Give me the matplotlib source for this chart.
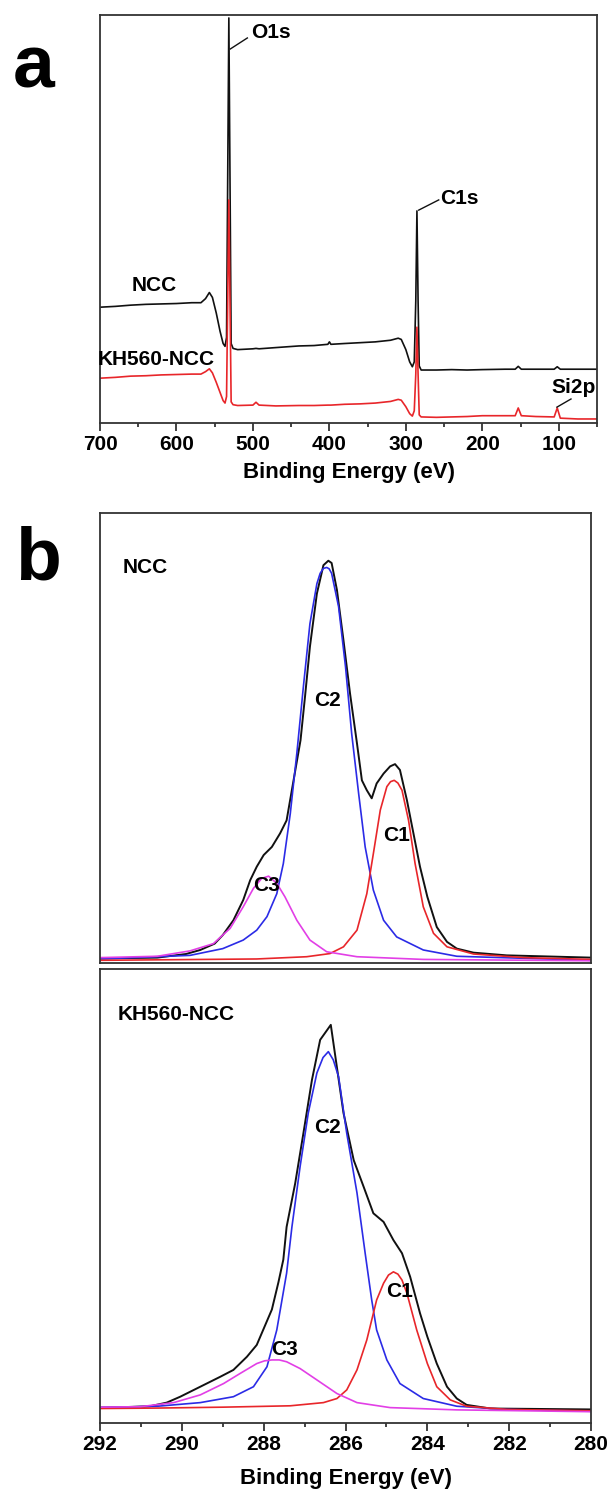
import matplotlib
matplotlib.use("Agg")
import matplotlib.pyplot as plt
from matplotlib.ticker import MultipleLocator

plt.rcParams["font.family"] = ["Liberation Sans", "DejaVu Sans"]
plt.rcParams["font.weight"] = "bold"

# ---- (a) survey spectra ----
survey_ev = [700, 680, 660, 640, 620, 600, 580, 568, 562, 557, 553, 548, 543, 539,
             536.5, 534.5, 533, 531.5, 530, 528.5, 526, 520, 500, 496, 492, 470,
             440, 420, 402, 400, 398, 380, 360, 340, 320, 310, 306, 300, 295,
             291.5, 289, 287, 285.5, 284, 282.5, 280, 260, 240, 220, 200, 170,
             157, 153, 149, 130, 106, 102, 98, 75, 50]
ncc_survey = [28.4, 28.6, 28.9, 29.1, 29.2, 29.3, 29.5, 29.5, 30.5, 32.0, 30.8, 27.0,
              22.5, 19.5, 18.8, 21.0, 60.0, 99.3, 60.0, 19.5, 18.3, 18.0, 18.2,
              18.3, 18.2, 18.5, 18.9, 19.0, 19.3, 19.9, 19.3, 19.5, 19.7, 19.9,
              20.3, 20.8, 20.5, 18.0, 15.0, 13.8, 15.0, 30.0, 52.0, 30.0, 14.0,
              13.0, 13.0, 13.1, 13.0, 13.1, 13.2, 13.2, 13.9, 13.2, 13.2, 13.2,
              13.8, 13.2, 13.2, 13.2]
kh_survey = [11.0, 11.2, 11.5, 11.6, 11.8, 11.9, 12.0, 12.0, 12.6, 13.3, 12.3, 10.0,
             7.5, 5.5, 4.9, 6.5, 30.0, 54.7, 30.0, 5.2, 4.5, 4.3, 4.4, 5.1, 4.4,
             4.2, 4.3, 4.3, 4.4, 4.4, 4.4, 4.6, 4.7, 4.9, 5.3, 5.8, 5.6, 4.0, 2.3,
             1.7, 3.0, 12.0, 23.5, 12.0, 2.0, 1.5, 1.4, 1.5, 1.6, 1.8, 1.8, 1.8,
             3.7, 1.8, 1.6, 1.5, 3.7, 1.2, 1.0, 1.0]

# ---- (b) C1s high resolution, NCC ----
ncc_env_ev = [292.0, 290.6, 289.9, 289.55, 289.2, 289.0, 288.74, 288.5, 288.33,
              288.17, 288.0, 287.8, 287.6, 287.44, 287.27, 287.1, 286.99, 286.87,
              286.7, 286.54, 286.42, 286.34, 286.21, 286.05, 285.89, 285.72,
              285.6, 285.48, 285.36, 285.24, 285.07, 284.91, 284.79, 284.67,
              284.5, 284.34, 284.18, 284.0, 283.77, 283.52, 283.28, 282.87,
              282.06, 280.0]
ncc_env = [1.0, 1.2, 2.0, 2.9, 4.3, 6.2, 9.5, 14.0, 18.4, 21.4, 24.0, 25.8, 28.8,
           31.7, 40.6, 49.5, 59.2, 70.3, 82.1, 88.4, 89.4, 88.9, 82.9, 71.7, 59.9,
           48.8, 40.6, 38.4, 36.6, 39.9, 42.1, 43.7, 44.2, 42.9, 36.2, 28.8, 21.4,
           14.7, 8.0, 4.7, 3.2, 2.3, 1.7, 1.2]
ncc_c2_ev = [292.0, 289.8, 289.0, 288.5, 288.17, 287.92, 287.68, 287.52, 287.35,
             287.19, 287.03, 286.87, 286.7, 286.62, 286.54, 286.46, 286.40, 286.34,
             286.17, 286.0, 285.85, 285.68, 285.52, 285.32, 285.07, 284.75, 284.1,
             283.28, 280.0]
ncc_c2 = [0.9, 1.7, 3.2, 5.1, 7.3, 10.3, 15.4, 22.1, 33.2, 46.6, 61.4, 75.4, 84.3,
          86.6, 87.7, 87.9, 87.6, 86.6, 79.2, 65.8, 51.0, 37.7, 25.8, 16.2, 9.5,
          5.8, 2.9, 1.5, 0.6]
ncc_c1_ev = [292.0, 288.17, 286.95, 286.38, 286.05, 285.72, 285.48, 285.32, 285.15,
             284.99, 284.90, 284.81, 284.72, 284.62, 284.46, 284.3, 284.1, 283.85,
             283.52, 282.87, 281.65, 280.0]
ncc_c1 = [0.6, 0.9, 1.4, 2.1, 3.6, 7.3, 15.4, 24.3, 34.0, 39.2, 40.3, 40.6, 40.0,
          38.4, 31.7, 22.1, 12.5, 6.6, 3.6, 2.0, 1.2, 0.8]
ncc_c3_ev = [292.0, 290.6, 289.8, 289.23, 288.82, 288.5, 288.25, 288.05, 287.88,
             287.68, 287.48, 287.19, 286.87, 286.46, 285.72, 284.1, 280.0]
ncc_c3 = [1.2, 1.5, 2.7, 4.3, 7.7, 12.5, 16.6, 18.8, 19.3, 17.7, 14.7, 9.5, 5.1,
          2.5, 1.4, 0.8, 0.5]

# ---- (b) C1s high resolution, KH560-NCC ----
kh_env_ev = [292.0, 291.43, 290.78, 290.37, 290.04, 289.55, 289.06, 288.74, 288.41,
             288.17, 287.8, 287.64, 287.52, 287.44, 287.23, 287.03, 286.82, 286.62,
             286.36, 286.05, 285.8, 285.56, 285.32, 285.07, 284.83, 284.62,
             284.42, 284.18, 284.0, 283.77, 283.52, 283.28, 283.04, 282.46, 280.0]
kh_env = [3.4, 3.5, 3.7, 4.5, 5.8, 8.0, 10.2, 11.7, 14.6, 17.2, 25.0, 31.0, 36.0,
          43.2, 52.8, 63.8, 75.6, 84.4, 87.7, 68.3, 57.9, 52.1, 46.2, 44.3, 40.3,
          37.4, 32.2, 24.2, 19.0, 13.1, 8.0, 5.4, 4.0, 3.2, 3.0]
kh_c2_ev = [292.0, 290.6, 289.55, 288.74, 288.25, 287.92, 287.68, 287.44, 287.31,
            287.11, 286.91, 286.7, 286.55, 286.42, 286.30, 286.17, 285.97, 285.72,
            285.52, 285.36, 285.24, 284.99, 284.67, 284.1, 283.28, 282.06, 280.0]
kh_c2 = [3.4, 3.7, 4.5, 5.8, 8.0, 12.4, 20.5, 33.0, 43.2, 56.5, 68.3, 77.1, 80.5,
         81.8, 80.0, 76.3, 63.8, 50.7, 37.4, 27.1, 20.5, 13.9, 8.7, 5.4, 3.7, 3.0,
         2.6]
kh_c1_ev = [292.0, 290.6, 288.98, 287.35, 286.54, 286.21, 285.97, 285.72, 285.48,
            285.24, 285.07, 284.95, 284.83, 284.72, 284.62, 284.5, 284.26, 284.0,
            283.77, 283.44, 283.04, 282.06, 280.0]
kh_c1 = [3.2, 3.3, 3.5, 3.8, 4.5, 5.4, 7.3, 11.7, 18.3, 27.1, 30.8, 32.6, 33.3,
         32.8, 31.5, 28.6, 20.5, 13.1, 8.0, 5.1, 3.7, 3.0, 2.7]
kh_c3_ev = [292.0, 291.02, 290.2, 289.55, 288.98, 288.58, 288.17, 287.98, 287.8,
            287.62, 287.44, 287.11, 286.7, 286.21, 285.72, 284.91, 283.28, 280.0]
kh_c3 = [3.5, 3.6, 4.5, 6.2, 8.7, 10.9, 13.1, 13.7, 13.9, 13.9, 13.5, 12.0, 9.5,
         6.5, 4.5, 3.4, 2.9, 2.5]

BLACK = "#111111"
RED = "#e8262a"
BLUE = "#2b2be6"
MAGENTA = "#e23fe6"
SPINE = "#333333"
TICK_FS = 15
TEXT_FS = 15


def style_box(ax):
    for sp in ax.spines.values():
        sp.set_color(SPINE)
        sp.set_linewidth(1.3)
    ax.set_yticks([])


def style_xaxis(ax, major, minor):
    ax.xaxis.set_major_locator(MultipleLocator(major))
    ax.xaxis.set_minor_locator(MultipleLocator(minor))
    ax.tick_params(axis="x", which="major", direction="out", length=5.5, width=1.3,
                   color=SPINE, labelsize=TICK_FS, pad=3.0, top=False)
    ax.tick_params(axis="x", which="minor", direction="out", length=3.2, width=1.3,
                   color=SPINE, top=False)
    for lab in ax.get_xticklabels():
        lab.set_fontweight("bold")
    ax.set_xlabel("Binding Energy (eV)", fontsize=16, fontweight="bold")


fig = plt.figure(figsize=(6.08, 14.97), dpi=100)

# panel a
ax_a = fig.add_axes([0.1645, 0.7174, 0.8174, 0.2725])
ax_a.plot(survey_ev, ncc_survey, color=BLACK, lw=1.2)
ax_a.plot(survey_ev, kh_survey, color=RED, lw=1.2)
ax_a.set_xlim(700, 50)
ax_a.set_ylim(0, 100)
style_box(ax_a)
style_xaxis(ax_a, 100, 50)
ax_a.xaxis.set_label_coords(0.5, -0.095)
ax_a.text(629, 33.8, "NCC", fontsize=TEXT_FS, fontweight="bold", ha="center", va="center")
ax_a.text(626, 15.7, "KH560-NCC", fontsize=TEXT_FS, fontweight="bold", ha="center", va="center")
ax_a.text(503, 95.8, "O1s", fontsize=TEXT_FS, fontweight="bold", ha="left", va="center")
ax_a.plot([529.6, 507.3], [91.7, 94.4], color=BLACK, lw=1.0)
ax_a.text(255.7, 55.1, "C1s", fontsize=TEXT_FS, fontweight="bold", ha="left", va="center")
ax_a.plot([283.2, 257.0], [52.2, 54.7], color=BLACK, lw=1.0)
ax_a.text(51.5, 8.6, "Si2p", fontsize=TEXT_FS, fontweight="bold", ha="right", va="center")
ax_a.plot([102.4, 84.0], [3.9, 5.9], color=BLACK, lw=1.0)

# panel b, NCC
ax_b1 = fig.add_axes([0.1645, 0.3567, 0.8076, 0.3006])
ax_b1.plot(ncc_env_ev, ncc_env, color=BLACK, lw=1.4)
ax_b1.plot(ncc_c2_ev, ncc_c2, color=BLUE, lw=1.2)
ax_b1.plot(ncc_c1_ev, ncc_c1, color=RED, lw=1.2)
ax_b1.plot(ncc_c3_ev, ncc_c3, color=MAGENTA, lw=1.2)
ax_b1.set_xlim(292, 280)
ax_b1.set_ylim(0, 100)
style_box(ax_b1)
ax_b1.set_xticks([])
ax_b1.text(291.44, 88.0, "NCC", fontsize=TEXT_FS, fontweight="bold", ha="left", va="center")
ax_b1.text(286.45, 58.4, "C2", fontsize=TEXT_FS, fontweight="bold", ha="center", va="center")
ax_b1.text(284.76, 28.4, "C1", fontsize=TEXT_FS, fontweight="bold", ha="center", va="center")
ax_b1.text(287.92, 17.3, "C3", fontsize=TEXT_FS, fontweight="bold", ha="center", va="center")

# panel b, KH560-NCC
ax_b2 = fig.add_axes([0.1645, 0.0494, 0.8076, 0.3033])
ax_b2.plot(kh_env_ev, kh_env, color=BLACK, lw=1.4)
ax_b2.plot(kh_c2_ev, kh_c2, color=BLUE, lw=1.2)
ax_b2.plot(kh_c1_ev, kh_c1, color=RED, lw=1.2)
ax_b2.plot(kh_c3_ev, kh_c3, color=MAGENTA, lw=1.2)
ax_b2.set_xlim(292, 280)
ax_b2.set_ylim(0, 100)
style_box(ax_b2)
style_xaxis(ax_b2, 2, 1)
ax_b2.xaxis.set_label_coords(0.5, -0.10)
ax_b2.text(291.58, 90.0, "KH560-NCC", fontsize=TEXT_FS, fontweight="bold", ha="left", va="center")
ax_b2.text(286.43, 65.0, "C2", fontsize=TEXT_FS, fontweight="bold", ha="center", va="center")
ax_b2.text(284.69, 28.9, "C1", fontsize=TEXT_FS, fontweight="bold", ha="center", va="center")
ax_b2.text(287.48, 16.1, "C3", fontsize=TEXT_FS, fontweight="bold", ha="center", va="center")

# panel letters
fig.text(13 / 608, 1 - 88 / 1497, "a", fontsize=54, fontweight="bold", ha="left", va="baseline")
fig.text(15 / 608, 1 - 579 / 1497, "b", fontsize=54, fontweight="bold", ha="left", va="baseline")

fig.savefig("out.png", dpi=100)
plt.close(fig)
